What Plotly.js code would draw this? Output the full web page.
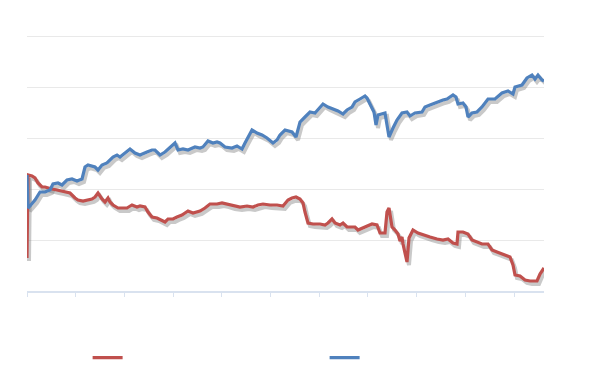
<!DOCTYPE html>
<html>
<head>
<meta charset="utf-8">
<script src="https://cdn.plot.ly/plotly-3.0.1.min.js"></script>
<style>html,body{margin:0;padding:0;background:#fff;}#chart{width:590px;height:371px;}</style>
</head>
<body>
<div id="chart"></div>
<script>
// Series values (x = period index, y = index level)
const blueX = [0,1,3,8,13,18,23,26,31,35,40,45,50,55,58,61,68,71,75,80,86,90,93,98,103,108,113,120,125,128,133,138,143,148,151,156,161,168,173,176,181,186,190,193,198,205,210,215,218,221,225,230,235,240,246,250,253,258,265,269,273,278,283,288,293,296,301,306,311,316,320,325,328,333,338,340,345,347,349,351,358,362,366,370,375,380,383,388,395,398,403,410,416,420,426,429,431,436,439,441,445,450,455,461,468,475,481,486,488,495,500,505,508,511,515,517];
const blueY = [116,83,85,91,99,99,101,107,108,106,111,112,110,112,124,126,124,121,126,128,134,136,134,138,142,138,136,139,141,141,136,139,143,148,141,142,141,144,143,144,150,148,149,148,144,143,145,142,148,153,161,158,156,153,148,151,156,161,159,154,169,174,179,178,183,187,184,182,180,177,181,184,189,192,195,193,184,179,166,176,178,154,163,171,178,179,175,178,179,184,186,189,191,192,196,194,187,188,184,174,178,179,184,192,192,198,200,197,204,206,213,216,212,216,211,210];
const redX = [0,1,5,8,11,15,18,21,25,30,35,38,43,48,51,56,61,65,68,71,75,78,81,83,86,91,95,100,105,110,113,118,121,125,130,135,138,141,146,150,155,161,166,173,178,183,190,195,200,206,213,220,226,231,236,243,250,256,261,265,269,273,276,278,281,286,293,298,301,305,308,313,316,320,328,331,338,345,350,353,358,360,362,365,368,371,373,375,376,380,382,386,391,396,403,410,416,421,426,430,431,436,441,445,450,455,461,465,470,476,483,486,488,493,498,503,510,513,517];
const redY = [33,116,115,113,108,104,104,103,102,101,100,99,98,93,91,90,91,92,94,98,92,89,93,89,86,83,83,83,86,84,85,84,79,74,73,71,69,72,72,74,76,80,78,80,83,87,87,88,87,85,84,85,84,86,87,86,86,85,91,93,94,92,88,79,68,67,67,66,68,72,68,66,68,64,64,61,64,67,66,58,58,79,83,64,61,57,50,54,47,29,53,61,58,56,54,52,51,52,48,47,59,59,57,51,49,47,47,41,39,37,34,26,16,15,11,10,10,17,23];
const seriesNames = ['', ''];

const RED = '#C0504D', BLUE = '#4F81BD';
const XR = [0, 517], YR = [0, 258];
const shadow = 'rgba(120,120,120,0.4)';

const traces = [
  {x: [], y: [], xaxis: 'x', yaxis: 'y', showlegend: false, hoverinfo: 'skip'},
  {x: redX, y: redY, xaxis: 'x2', yaxis: 'y2', mode: 'lines', line: {color: shadow, width: 4}, showlegend: false, hoverinfo: 'skip'},
  {x: blueX, y: blueY, xaxis: 'x2', yaxis: 'y2', mode: 'lines', line: {color: shadow, width: 4}, showlegend: false, hoverinfo: 'skip'},
  {x: redX, y: redY, xaxis: 'x3', yaxis: 'y3', mode: 'lines', name: seriesNames[0], line: {color: RED, width: 3.2}},
  {x: blueX, y: blueY, xaxis: 'x3', yaxis: 'y3', mode: 'lines', name: seriesNames[1], line: {color: BLUE, width: 3.2}}
];

const hidden = {visible: false, fixedrange: true};
const layout = {
  width: 590, height: 371,
  margin: {l: 27, r: 46, t: 33, b: 80},
  paper_bgcolor: '#ffffff', plot_bgcolor: '#ffffff',
  font: {family: 'Liberation Sans, Arial, sans-serif', size: 11, color: '#595959'},
  xaxis: {range: XR, tick0: 0, dtick: 48.7, showgrid: false, zeroline: false,
          showline: true, linecolor: '#D9E2EF', linewidth: 1.5,
          ticks: 'outside', ticklen: 4, tickcolor: '#D9E2EF', tickwidth: 1,
          showticklabels: false},
  yaxis: {range: YR, tick0: 0, dtick: 51, showgrid: true, gridcolor: '#E9E9E9', gridwidth: 1,
          zeroline: false, showline: false, ticks: '', showticklabels: false},
  xaxis2: Object.assign({overlaying: 'x', anchor: 'y2', range: [XR[0] - 2, XR[1] - 2]}, hidden),
  yaxis2: Object.assign({overlaying: 'y', anchor: 'x2', range: [YR[0] + 3, YR[1] + 3]}, hidden),
  xaxis3: Object.assign({overlaying: 'x', anchor: 'y3', range: XR}, hidden),
  yaxis3: Object.assign({overlaying: 'y', anchor: 'x3', range: YR}, hidden),
  showlegend: true,
  legend: {orientation: 'h', xref: 'container', yref: 'container',
           x: 0.1485, xanchor: 'left', y: 0.036, yanchor: 'middle',
           entrywidth: 192, entrywidthmode: 'pixels', bgcolor: 'rgba(0,0,0,0)',
           font: {size: 11}}
};

Plotly.newPlot('chart', traces, layout, {staticPlot: true, displayModeBar: false});
</script>
</body>
</html>
